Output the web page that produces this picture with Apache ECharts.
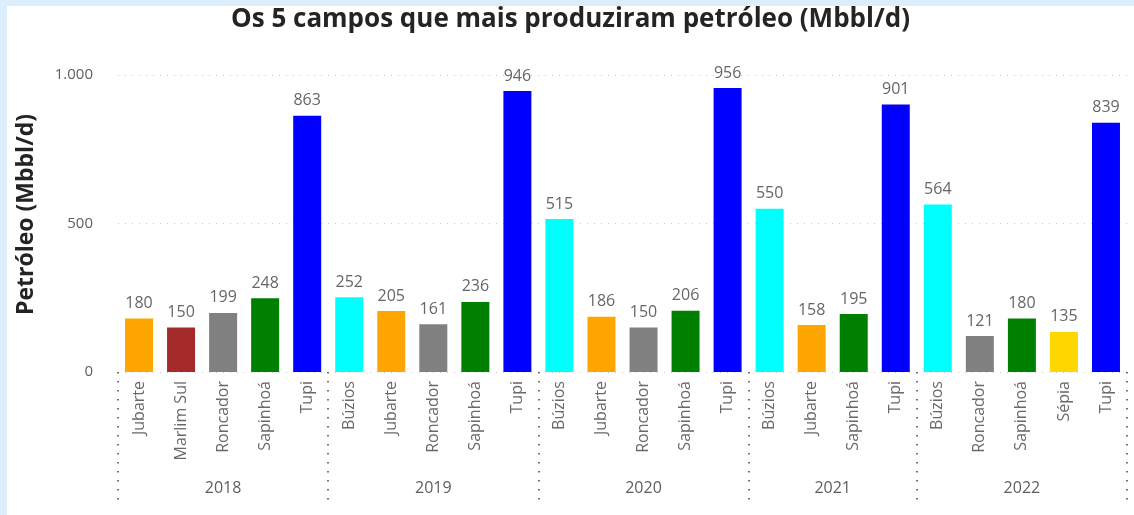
<!DOCTYPE html>
<html>
<head>
<meta charset="utf-8">
<script src="https://cdn.jsdelivr.net/npm/echarts@6/dist/echarts.min.js"></script>
<style>
  html, body { margin: 0; padding: 0; background: #dcedfb; }
  #chart { position: absolute; left: 7px; top: 6px; width: 1127px; height: 509px; background: #ffffff; }
</style>
</head>
<body>
<div id="chart"></div>
<script>
// ---- data ----
const years = ['2018', '2019', '2020', '2021', '2022'];
const fields2018 = ['Jubarte', 'Marlim Sul', 'Roncador', 'Sapinhoá', 'Tupi'];
const values2018 = [180, 150, 199, 248, 863];
const fields2019 = ['Búzios', 'Jubarte', 'Roncador', 'Sapinhoá', 'Tupi'];
const values2019 = [252, 205, 161, 236, 946];
const fields2020 = ['Búzios', 'Jubarte', 'Roncador', 'Sapinhoá', 'Tupi'];
const values2020 = [515, 186, 150, 206, 956];
const fields2021 = ['Búzios', 'Jubarte', 'Sapinhoá', 'Tupi'];
const values2021 = [550, 158, 195, 901];
const fields2022 = ['Búzios', 'Roncador', 'Sapinhoá', 'Sépia', 'Tupi'];
const values2022 = [564, 121, 180, 135, 839];
const yTicks = [0, 500, 1000];

const fieldColors = {
  'Jubarte': '#FFA500',
  'Marlim Sul': '#A52A2A',
  'Roncador': '#808080',
  'Sapinhoá': '#008000',
  'Tupi': '#0000FF',
  'Búzios': '#00FFFF',
  'Sépia': '#FFD700'
};

const groupFields = [fields2018, fields2019, fields2020, fields2021, fields2022];
const groupValues = [values2018, values2019, values2020, values2021, values2022];

// flatten
const categories = [];
const barData = [];
const boundaries = [0];
const yearCenters = [];
let idx = 0;
groupFields.forEach((fs, g) => {
  const start = idx;
  fs.forEach((f, i) => {
    categories.push(f);
    barData.push({ value: groupValues[g][i], itemStyle: { color: fieldColors[f] } });
    idx++;
  });
  boundaries.push(idx);
  yearCenters.push((start + idx) / 2);
});
const total = idx;

const FONT = '"Open Sans", "DejaVu Sans", sans-serif';

const chart = echarts.init(document.getElementById('chart'));
chart.setOption({
  animation: false,
  textStyle: { fontFamily: FONT },
  title: {
    text: 'Os 5 campos que mais produziram petróleo (Mbbl/d)',
    left: 'center',
    top: -4,
    textStyle: { fontFamily: FONT, fontWeight: 'bold', fontSize: 26, color: '#252423' }
  },
  grid: { left: 111, right: 7, top: 69, bottom: 143, containLabel: false },
  xAxis: [
    {
      type: 'category',
      data: categories,
      position: 'bottom',
      axisLine: { show: false },
      axisTick: { show: false },
      axisLabel: {
        rotate: 90,
        margin: 9,
        interval: 0,
        color: '#6b6967',
        fontSize: 16,
        fontFamily: FONT
      }
    },
    {
      type: 'value',
      min: 0,
      max: total,
      position: 'bottom',
      axisLine: { show: false },
      splitLine: { show: false },
      axisTick: {
        show: true,
        customValues: boundaries,
        length: 133,
        lineStyle: { color: '#444', width: 1.5, type: [1.5, 7.5] }
      },
      axisLabel: {
        show: true,
        customValues: yearCenters,
        margin: 108,
        color: '#605E5C',
        fontSize: 16,
        fontFamily: FONT,
        formatter: function (v) {
          const k = yearCenters.indexOf(v);
          return k >= 0 ? years[k] : '';
        }
      }
    }
  ],
  yAxis: {
    type: 'value',
    min: yTicks[0],
    max: yTicks[yTicks.length - 1],
    interval: yTicks[1] - yTicks[0],
    name: 'Petróleo (Mbbl/d)',
    nameLocation: 'middle',
    nameGap: 80,
    nameTextStyle: { fontFamily: FONT, fontWeight: 'bold', fontSize: 23, color: '#252423', padding: [0, 0, 0, 18] },
    axisLine: { show: false },
    axisTick: { show: false },
    axisLabel: {
      margin: 25,
      color: '#605E5C',
      fontSize: 15,
      fontFamily: FONT,
      formatter: function (v) { return v.toLocaleString('pt-BR'); }
    },
    splitLine: { show: true, lineStyle: { color: '#c8c8c8', width: 1, type: [1, 6] } }
  },
  series: [{
    type: 'bar',
    xAxisIndex: 0,
    data: barData,
    barWidth: 28,
    label: {
      show: true,
      position: 'top',
      distance: 7,
      color: '#666666',
      fontSize: 16,
      fontFamily: FONT
    }
  }]
});
</script>
</body>
</html>
